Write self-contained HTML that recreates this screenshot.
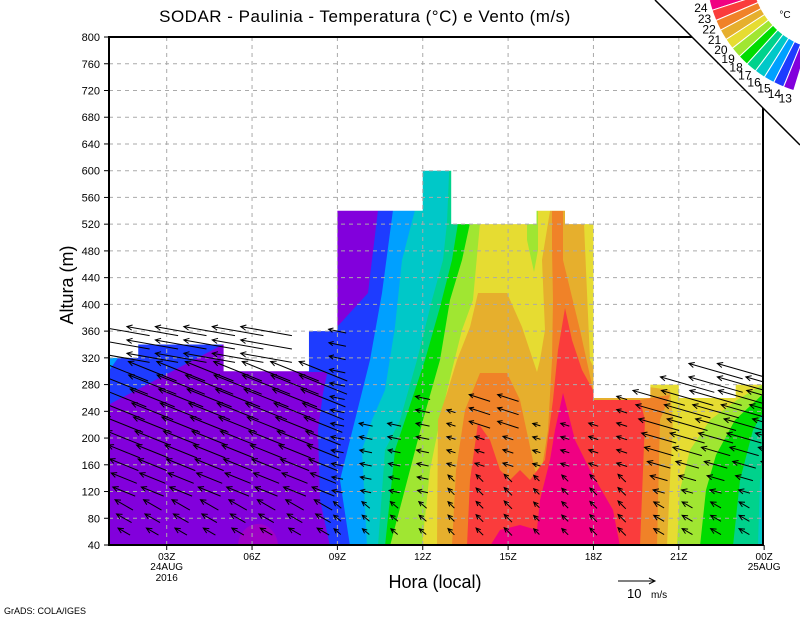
<!DOCTYPE html>
<html><head><meta charset="utf-8"><style>
html,body{margin:0;padding:0;background:#fff;}
svg{display:block;font-family:"Liberation Sans",sans-serif;}
</style></head><body>
<svg id="s" width="800" height="618" viewBox="0 0 800 618" xmlns="http://www.w3.org/2000/svg">
<defs>
<clipPath id="pc"><rect x="109" y="37" width="654" height="508"/></clipPath>
<clipPath id="ac"><rect x="109" y="0" width="654" height="545"/></clipPath>
</defs>
<g clip-path="url(#pc)">
<rect x="109" y="37" width="654" height="508" fill="#8200dc"/>
<ellipse cx="258" cy="546" rx="20" ry="22" fill="#a000c8"/>
<polygon fill="#1e3cff" points="108,405 222,345 222,330 108,330"/>
<polygon fill="#00a0ff" points="108,358 118,358 108,372"/>
<polygon fill="#1e3cff" points="308,330 338,330 338,385 325,372 308,372"/>
<polygon fill="#1e3cff" points="380,150 378,210 368,293 337,327 323,393 318,430 320,500 330,546 770,546 770,150"/>
<polygon fill="#00a0ff" points="395,150 393,210 382,293 370,360 355,420 340,480 350,546 770,546 770,150"/>
<polygon fill="#00c8c8" points="418,150 415,210 402,260 395,327 385,390 372,420 362,450 367,546 770,546 770,150"/>
<polygon fill="#00d28c" points="450,150 447,223 443,260 432,300 417,360 400,420 385,450 378,546 758,546 760,480 770,470 770,150"/>
<polygon fill="#00dc00" points="462,150 458,223 452,260 440,307 425,360 405,420 395,450 385,546 733,546 740,480 753,430 762,414 770,414 770,150"/>
<polygon fill="#a0e632" points="475,150 470,223 462,260 450,300 440,360 423,420 410,470 390,546 700,546 706,490 716,455 735,420 762,395 770,395 770,150"/>
<polygon fill="#e6dc32" points="485,150 480,223 473,300 462,330 452,370 440,420 430,470 422,546 677,546 680,490 690,450 710,420 737,400 762,385 770,385 770,150"/>
<polygon fill="#a0e632" points="527,211 538,211 538,250 534,272 527,240"/>
<polygon fill="#e6af2d" points="548,150 550,211 542,260 545,330 540,360 537,372 533,360 522,327 507,293 478,293 470,327 457,360 447,393 438,420 437,546 667,546 670,480 673,420 670,390 600,380 590,360 586,270 583,200 583,150"/>
<polygon fill="#f08228" points="452,546 456,470 465,410 480,373 507,373 520,400 535,470 540,480 548,430 552,360 553,300 552,250 552,211 563,211 563,260 580,330 592,385 594,400 640,400 650,398 670,395 660,420 657,546"/>
<polygon fill="#fa3c3c" points="467,546 470,480 478,423 490,440 500,470 510,480 520,470 530,480 545,460 553,400 558,350 565,308 572,340 582,370 593,390 594,400 640,400 645,420 640,546"/>
<polygon fill="#f00082" points="563,393 575,440 590,470 613,510 620,546 490,546 500,530 520,525 537,530 540,500 550,460 555,430"/>
<path id="mask" fill="#fff" d=""/>
<g id="grid" stroke="#aaa" stroke-width="1" stroke-dasharray="4,4"></g>
</g>
<g id="arrows" clip-path="url(#ac)" stroke="#000" stroke-width="1" fill="none"></g>
<rect x="109" y="37" width="654" height="508" fill="none" stroke="#000" stroke-width="2"/>
<g id="ticks" stroke="#000" stroke-width="1"></g>
<g id="labels" font-size="11" fill="#000"></g>
<polygon points="655,0 800,0 800,145" fill="#fff"/>
<line x1="655" y1="0" x2="800" y2="145" stroke="#000" stroke-width="1.5"/>
<g id="cb"></g>
<text x="785" y="18" font-size="10" text-anchor="middle">°C</text>
<text x="365" y="22" font-size="17" text-anchor="middle" letter-spacing="0.5">SODAR - Paulinia - Temperatura (°C) e Vento (m/s)</text>
<text x="0" y="0" font-size="18" text-anchor="middle" transform="translate(73,285) rotate(-90)">Altura (m)</text>
<text x="435" y="588" font-size="18" text-anchor="middle">Hora (local)</text>
<line x1="618" y1="581" x2="655" y2="581" stroke="#000"/>
<polyline points="649,578 655,581 649,584" fill="none" stroke="#000"/>
<text x="627" y="598" font-size="13">10</text>
<text x="651" y="598" font-size="10">m/s</text>
<text x="4" y="614" font-size="9">GrADS: COLA/IGES</text>
</svg>
<script>
var NS="http://www.w3.org/2000/svg";
function X(t){return 166.7+(t-3)*28.45;}
function Y(h){return 545-(h-40)*0.6684;}
function el(tag,attrs,parent,txt){var e=document.createElementNS(NS,tag);for(var k in attrs)e.setAttribute(k,attrs[k]);if(txt!==undefined)e.textContent=txt;parent.appendChild(e);return e;}
var segs=[[1,2,320],[2,5,340],[5,8,300],[8,9,360],[9,12,540],[12,13,600],[13,16,520],[16,17,540],[17,18,520],[18,20,260],[20,21,280],[21,23,260],[23,24.1,280]];
var d="M100,30 L100,"+Y(segs[0][2]);
segs.forEach(function(s){var x0=s[0]==1?100:X(s[0]),x1=s[1]>24?770:X(s[1]);d+=" L"+x0+","+Y(s[2])+" L"+x1+","+Y(s[2]);});
d+=" L770,30 Z";
document.getElementById("mask").setAttribute("d",d);
var g=document.getElementById("grid"),tk=document.getElementById("ticks"),lb=document.getElementById("labels");
for(var h=80;h<=760;h+=40){el("line",{x1:109,y1:Y(h),x2:763,y2:Y(h)},g);}
for(var h=40;h<=800;h+=40){el("line",{x1:104,y1:Y(h),x2:109,y2:Y(h)},tk);el("text",{x:100,y:Y(h)+4,"text-anchor":"end"},lb,String(h));}
var xl=[[3,"03Z"],[6,"06Z"],[9,"09Z"],[12,"12Z"],[15,"15Z"],[18,"18Z"],[21,"21Z"],[24,"00Z"]];
xl.forEach(function(a){var x=X(a[0]);if(a[0]<24)el("line",{x1:x,y1:37,x2:x,y2:545},g);el("line",{x1:x,y1:545,x2:x,y2:550},tk);el("text",{x:x,y:560,"text-anchor":"middle","font-size":"10"},lb,a[1]);});
el("text",{x:X(3),y:570,"text-anchor":"middle","font-size":"10"},lb,"24AUG");
el("text",{x:X(3),y:581,"text-anchor":"middle","font-size":"10"},lb,"2016");
el("text",{x:X(24),y:570,"text-anchor":"middle","font-size":"10"},lb,"25AUG");
var hmax={1:370,2:370,3:360,4:360,5:360,6:360,7:300,8:300,9:360,10:220,11:220,12:260,13:240,14:260,15:260,16:220,17:220,18:220,19:260,20:260,21:280,22:300,23:300,24:280};
var ag=document.getElementById("arrows");
function arrow(cx,cy,len,angDeg,hl){var a=angDeg*Math.PI/180;var dx=-Math.cos(a)*len,dy=-Math.sin(a)*len;
 var x1=cx-dx/2,y1=cy-dy/2,x2=cx+dx/2,y2=cy+dy/2;
 var ux=dx/len,uy=dy/len;
 var c=Math.cos(0.45),s=Math.sin(0.45);
 var hx1=x2-hl*(ux*c-uy*s),hy1=y2-hl*(uy*c+ux*s);
 var hx2=x2-hl*(ux*c+uy*s),hy2=y2-hl*(uy*c-ux*s);
 el("path",{d:"M"+x1.toFixed(1)+","+y1.toFixed(1)+"L"+x2.toFixed(1)+","+y2.toFixed(1)+"M"+hx1.toFixed(1)+","+hy1.toFixed(1)+"L"+x2.toFixed(1)+","+y2.toFixed(1)+"L"+hx2.toFixed(1)+","+hy2.toFixed(1)},ag);}
for(var t=1;t<=24;t++){
 for(var h=60;h<=hmax[t];h+=20){
  var len,ang,cx,hl=6;
  if(t<=8){len=Math.min(52,14+(h-60)*0.17);ang=h>300?10:(h<120?30:22);cx=X(t+0.5);}
  else if(t<=12){len=9+(h-60)*0.03;ang=h<120?40:12;cx=X(t);hl=5;}
  else if(t<=19){len=(h>=220&&h<=260&&(t==14||t==15))?22:8+((h*7+t*13)%4);ang=h<160?45:18;cx=X(t);hl=5;}
  else{len=h<120?12:Math.min(56,12+(h-120)*0.3);ang=h<120?30:16;cx=X(t+0.3);}
  arrow(cx,Y(h),len,ang,hl);
 }
}
var cols=["#f00082","#fa3c3c","#f08228","#e6af2d","#e6dc32","#a0e632","#00dc00","#00d28c","#00c8c8","#00a0ff","#1e3cff","#8200dc"];
var labs=["24","23","22","21","20","19","18","17","16","15","14","13"];
var cb=document.getElementById("cb"),CX=830,CY=-28,r0=78,r1=124;
function P(r,th){var a=th*Math.PI/180;return (CX+r*Math.cos(a)).toFixed(1)+","+(CY+r*Math.sin(a)).toFixed(1);}
for(var i=0;i<12;i++){var a0=167-i*5,a1=a0-5;
 el("path",{d:"M"+P(r0,a0)+" L"+P(r1,a0)+" A"+r1+","+r1+" 0 0 0 "+P(r1,a1)+" L"+P(r0,a1)+" A"+r0+","+r0+" 0 0 1 "+P(r0,a0)+"Z",fill:cols[i],stroke:"#fff","stroke-width":"1"},cb);
 var pt=P(134,a0-2.5).split(",");
 el("text",{x:pt[0],y:(+pt[1]+4),"font-size":"12","text-anchor":"middle"},cb,labs[i]);}
</script>
</body></html>
